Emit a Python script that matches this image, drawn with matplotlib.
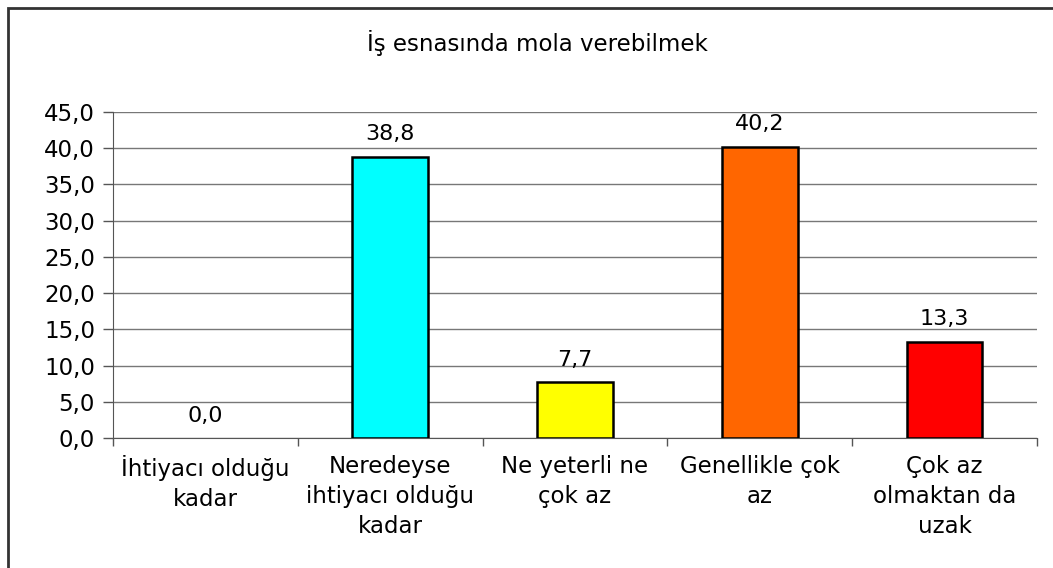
import matplotlib
matplotlib.use("Agg")
import matplotlib.pyplot as plt
from matplotlib.patches import Rectangle
from matplotlib.ticker import FixedLocator, FuncFormatter

plt.rcParams["font.family"] = ["DejaVu Sans"]

categories = [
    "İhtiyacı olduğu\nkadar",
    "Neredeyse\nihtiyacı olduğu\nkadar",
    "Ne yeterli ne\nçok az",
    "Genellikle çok\naz",
    "Çok az\nolmaktan da\nuzak",
]
values = [0.0, 38.8, 7.7, 40.2, 13.3]
colors = ["#FFFFFF", "#00FFFF", "#FFFF00", "#FF6600", "#FF0000"]
title = "İş esnasında mola verebilmek"

fig = plt.figure(figsize=(10.53, 5.68), dpi=100)
ax = fig.add_axes([113 / 1053, 1 - 438 / 568, (1037 - 113) / 1053, (438 - 112) / 568])

x = list(range(len(categories)))
edge_w = [1.8 if v > 0 else 0 for v in values]
ax.bar(x, values, width=0.41, color=colors, edgecolor="black", linewidth=edge_w, zorder=3)

for xi, v in zip(x, values):
    ax.annotate(f"{v:.1f}".replace(".", ","), (xi, v), xytext=(0, 9),
                textcoords="offset points", ha="center", va="bottom", fontsize=16)

ax.set_xlim(-0.5, len(categories) - 0.5)
ax.set_ylim(0, 45)
ax.set_yticks([0, 5, 10, 15, 20, 25, 30, 35, 40, 45])
ax.yaxis.set_major_formatter(FuncFormatter(lambda v, p: f"{v:.1f}".replace(".", ",")))
ax.tick_params(axis="y", labelsize=16.5, length=7, width=1, color="#555555", pad=6)
ax.yaxis.grid(True, color="#777777", linewidth=1)
ax.set_axisbelow(True)

ax.set_xticks(x)
ax.set_xticklabels(categories, fontsize=16.5, linespacing=1.4)
ax.tick_params(axis="x", which="major", length=0, pad=12)
ax.xaxis.set_minor_locator(FixedLocator([i - 0.5 for i in range(len(categories) + 1)]))
ax.tick_params(axis="x", which="minor", length=6, width=1, color="#555555")

for side in ["top", "right"]:
    ax.spines[side].set_visible(False)
ax.spines["left"].set_color("#555555")
ax.spines["bottom"].set_color("#555555")

fig.text(537 / 1053, 1 - 43 / 568, title, ha="center", va="center", fontsize=16.5)

# outer chart frame (left and top edges visible)
fig.patches.append(Rectangle((8 / 1053, -0.1), 1.2, 1.1 - 8 / 568,
                             transform=fig.transFigure, fill=False,
                             edgecolor="#333333", linewidth=2))

fig.savefig("out.png", dpi=100)
